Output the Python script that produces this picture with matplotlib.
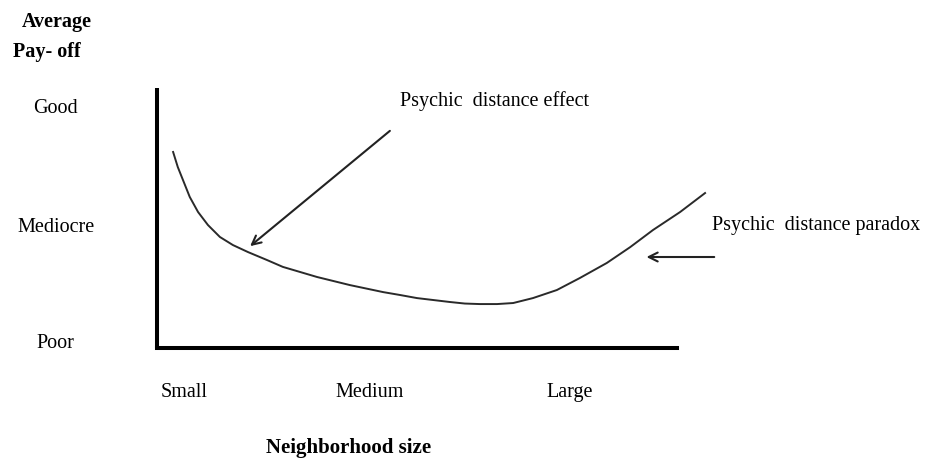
import matplotlib.pyplot as plt

# curva conceitual (x: tamanho da vizinhança 0-10, y: pay-off 0-10)
curva_x = [0.31, 0.40, 0.50, 0.63, 0.79, 0.98, 1.21, 1.46, 1.75, 2.12, 2.42, 3.08,
           3.71, 4.35, 4.67, 5.0, 5.63, 5.92, 6.21, 6.54, 6.85, 7.23, 7.69, 8.13,
           8.65, 9.10, 9.54, 10.06, 10.54]
curva_y = [7.54, 6.96, 6.46, 5.81, 5.23, 4.73, 4.27, 3.96, 3.69, 3.38, 3.12, 2.73,
           2.42, 2.15, 2.04, 1.92, 1.77, 1.71, 1.69, 1.69, 1.73, 1.92, 2.23, 2.69,
           3.27, 3.88, 4.54, 5.23, 5.96]

niveis_y = ['Good', 'Mediocre', 'Poor']
pos_niveis_y = [9.23, 4.62, 0.19]
niveis_x = ['Small', 'Medium', 'Large']
pos_niveis_x = [0.53, 4.08, 7.94]

fonte = 'Liberation Serif'
tam = 14.5

fig = plt.figure(figsize=(9.31, 4.61), dpi=100)
ax = fig.add_axes([0, 0, 1, 1])
ax.set_xlim(-3.019, 14.885)
ax.set_ylim(-4.346, 13.385)
ax.axis('off')

# eixos
ax.plot([0, 0], [0, 10], color='black', lw=2.9, solid_capstyle='butt')
ax.plot([0, 10], [0, 0], color='black', lw=2.9, solid_capstyle='projecting')

ax.plot(curva_x, curva_y, color='#2a2a2a', lw=1.4, solid_joinstyle='round')

# setas
ax.annotate('', xy=(1.75, 3.85), xytext=(4.52, 8.42),
            arrowprops=dict(arrowstyle='->', color='#222222', lw=1.5,
                            mutation_scale=16))
ax.annotate('', xy=(9.36, 3.5), xytext=(10.77, 3.5),
            arrowprops=dict(arrowstyle='->', color='#222222', lw=1.5,
                            mutation_scale=16))

ax.text(4.67, 9.5, 'Psychic  distance effect', fontsize=tam, family=fonte,
        ha='left', va='center')
ax.text(10.67, 4.73, 'Psychic  distance paradox', fontsize=tam, family=fonte,
        ha='left', va='center')

for nome, y in zip(niveis_y, pos_niveis_y):
  ax.text(-1.95, y, nome, fontsize=tam, family=fonte, ha='center', va='center')

for nome, x in zip(niveis_x, pos_niveis_x):
  ax.text(x, -1.73, nome, fontsize=tam, family=fonte, ha='center', va='center')

ax.text(-1.92, 12.54, 'Average', fontsize=14.5, family=fonte, weight='bold',
        ha='center', va='center')
ax.text(-2.12, 11.38, 'Pay- off', fontsize=14.5, family=fonte, weight='bold',
        ha='center', va='center')
ax.text(3.69, -3.85, 'Neighborhood size', fontsize=15, family=fonte,
        weight='bold', ha='center', va='center')

fig.savefig('out.png', dpi=100)
